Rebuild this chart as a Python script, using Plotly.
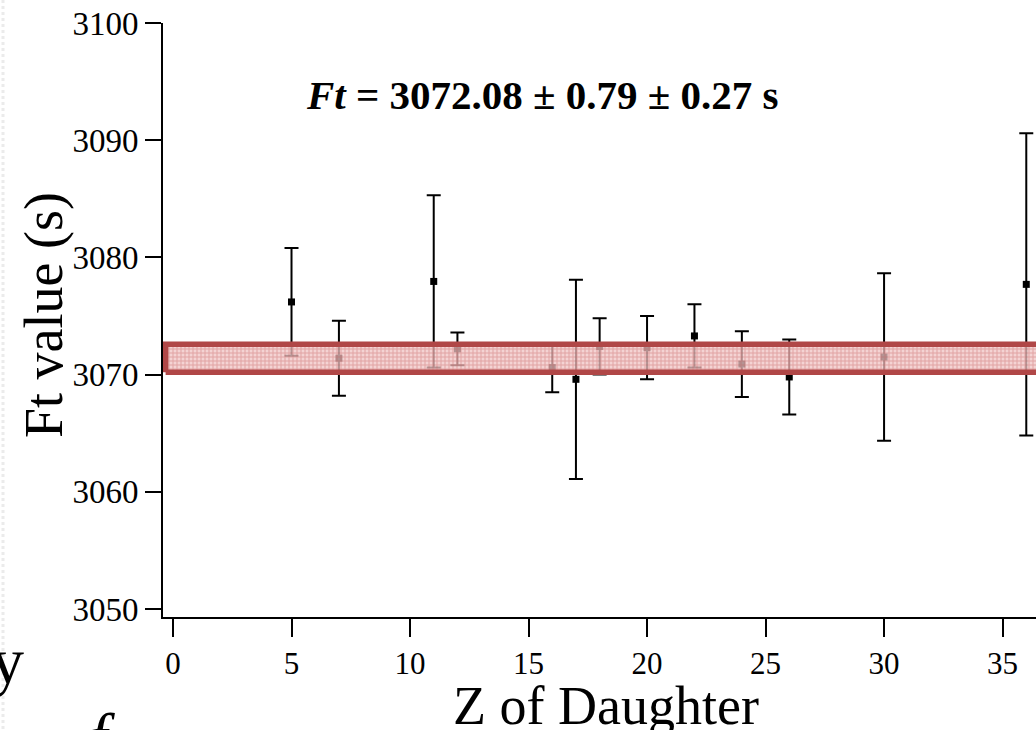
import plotly.graph_objects as go

# ---- data ----
z_daughter = [5, 7, 11, 12, 16, 17, 18, 20, 22, 24, 26, 30, 36]
ft_values = [3076.2, 3071.4, 3077.95, 3072.2, 3070.6, 3069.6, 3072.4,
             3072.3, 3073.3, 3070.9, 3069.8, 3071.5, 3077.7]
ft_errors = [4.6, 3.2, 7.35, 1.4, 2.1, 8.5, 2.4, 2.7, 2.7, 2.8, 3.2, 7.15, 12.9]
band_low = 3070.2
band_high = 3072.6
x_ticks = [0, 5, 10, 15, 20, 25, 30, 35]
y_ticks = [3050, 3060, 3070, 3080, 3090, 3100]
title_text = "<i>Ft</i> = 3072.08 ± 0.79 ± 0.27 s"

FONT = "Liberation Serif"
X_RANGE = [-0.422, 36.41]
Y_RANGE = [3049.32, 3100]

fig = go.Figure()

fig.add_trace(go.Scatter(
    x=z_daughter, y=ft_values, mode="markers",
    marker=dict(symbol="square", size=7, color="black"),
    error_y=dict(type="data", array=ft_errors, visible=True,
                 color="black", thickness=2, width=7),
    showlegend=False, cliponaxis=False,
))

band_left = X_RANGE[0] + 0.11
band_right = 40
fig.add_trace(go.Scatter(
    x=[band_left, band_right, band_right, band_left, band_left],
    y=[band_low, band_low, band_high, band_high, band_low],
    mode="lines", fill="toself",
    line=dict(color="#b04747", width=5.5),
    fillcolor="rgba(240,196,196,0.75)",
    fillpattern=dict(shape="+", size=4, solidity=0.4,
                     fgcolor="rgba(196,92,92,0.9)",
                     bgcolor="rgba(240,196,196,0.75)"),
    showlegend=False, hoverinfo="skip",
))

W, H = 1036, 730
ML, MR, MT, MB = 163, 0, 23, 113
pw = W - ML - MR
ph = H - MT - MB

def px_x(px):
    return (px - ML) / pw

def px_y(py):
    return (H - MB - py) / ph

fig.update_layout(
    width=W, height=H,
    margin=dict(l=ML, r=MR, t=MT, b=MB, pad=0),
    paper_bgcolor="white", plot_bgcolor="white",
    font=dict(family=FONT, color="black"),
    xaxis=dict(range=X_RANGE, tickvals=x_ticks, ticks="outside", ticklen=18,
               tickwidth=2, tickcolor="black", showline=True, linecolor="black",
               linewidth=2, showgrid=False, zeroline=False,
               tickfont=dict(family=FONT, size=31), ticklabelstandoff=0),
    yaxis=dict(range=Y_RANGE, tickvals=y_ticks, ticks="outside", ticklen=16,
               tickwidth=2, tickcolor="black", showline=True, linecolor="black",
               linewidth=2, showgrid=False, zeroline=False,
               tickfont=dict(family=FONT, size=33), ticklabelstandoff=0),
)

annotations = [
    dict(text=title_text, xref="paper", yref="paper", x=px_x(542), y=px_y(95),
         xanchor="center", yanchor="middle", showarrow=False,
         font=dict(family=FONT, size=41, color="black", weight="bold")),
    dict(text="Ft value (s)", xref="paper", yref="paper", x=px_x(44), y=px_y(315),
         xanchor="center", yanchor="middle", textangle=-90, showarrow=False,
         font=dict(family=FONT, size=54, color="black")),
    dict(text="Z of Daughter", xref="paper", yref="paper", x=px_x(606), y=px_y(706),
         xanchor="center", yanchor="middle", showarrow=False,
         font=dict(family=FONT, size=54, color="black")),
    dict(text="y", xref="paper", yref="paper", x=px_x(26), y=px_y(660),
         xanchor="right", yanchor="middle", showarrow=False,
         font=dict(family=FONT, size=66, color="black")),
    dict(text="<i>f</i>", xref="paper", yref="paper", x=px_x(102), y=px_y(736),
         xanchor="center", yanchor="middle", showarrow=False,
         font=dict(family=FONT, size=66, color="black")),
]
fig.update_layout(annotations=annotations)

fig.add_shape(type="line", xref="paper", yref="paper",
              x0=px_x(3), x1=px_x(3), y0=px_y(0), y1=px_y(730),
              line=dict(color="rgba(215,215,215,0.5)", width=3, dash="dot"))

fig.write_html("out.html",
               config={"displayModeBar": False},
               post_script="document.body.style.margin='0';"
                           "document.body.style.overflow='hidden';")
